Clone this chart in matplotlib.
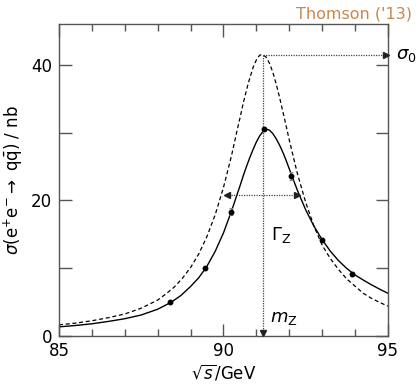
import matplotlib
matplotlib.use("Agg")
import matplotlib.pyplot as plt
from matplotlib.ticker import MultipleLocator

# ---- data ----
born_energy = [85.0, 85.5, 86.0, 86.5, 87.0, 87.5, 88.0, 88.25, 88.5, 88.75, 89.0, 89.25,
               89.5, 89.75, 90.0, 90.1, 90.25, 90.4, 90.5, 90.6, 90.75, 90.9, 91.0, 91.1,
               91.19, 91.3, 91.4, 91.5, 91.6, 91.7, 91.8, 91.9, 92.0, 92.1, 92.25, 92.5,
               92.75, 93.0, 93.25, 93.5, 93.75, 94.0, 94.25, 94.5, 94.75, 95.0]
born_xsec = [1.65, 1.9, 2.25, 2.7, 3.25, 4.1, 5.3, 6.2, 7.2, 8.5, 10.1, 12.1,
             14.7, 17.9, 21.9, 23.8, 26.7, 30.0, 32.1, 34.3, 37.2, 39.6, 40.7, 41.4,
             41.5, 41.1, 40.2, 38.9, 37.2, 35.3, 33.2, 31.1, 28.9, 26.9, 23.9, 19.7,
             16.2, 13.4, 11.4, 9.8, 8.4, 7.35, 6.3, 5.55, 4.95, 4.4]

isr_energy = [85.0, 85.5, 86.0, 86.5, 87.0, 87.5, 88.0, 88.4, 88.7, 89.0, 89.25, 89.5,
              89.75, 90.0, 90.25, 90.5, 90.6, 90.7, 90.8, 90.9, 91.0, 91.1, 91.2, 91.3,
              91.4, 91.5, 91.6, 91.7, 91.8, 91.9, 92.0, 92.1, 92.25, 92.5, 92.75, 93.0,
              93.25, 93.5, 93.75, 94.0, 94.25, 94.5, 94.75, 95.0]
isr_xsec = [1.35, 1.55, 1.8, 2.15, 2.55, 3.1, 3.95, 4.95, 5.95, 7.3, 8.6, 10.3,
            12.5, 15.2, 18.5, 22.1, 23.6, 25.0, 26.3, 27.5, 28.6, 29.5, 30.15, 30.5,
            30.35, 29.85, 29.1, 28.2, 27.15, 25.95, 24.65, 23.35, 21.45, 18.6, 16.2, 14.2,
            12.5, 11.1, 9.95, 9.0, 8.25, 7.55, 6.9, 6.3]

data_energy = [88.38, 89.45, 90.22, 91.24, 92.05, 93.0, 93.92]
data_xsec = [5.0, 10.0, 18.3, 30.5, 23.6, 14.1, 9.1]
data_err = [0.15, 0.2, 0.5, 0.3, 0.6, 0.25, 0.3]

m_z = 91.19
sigma_0 = 41.5
half_max = 20.75
gamma_lo, gamma_hi = 90.07, 92.3

x_ticks = [85, 90, 95]
y_ticks = [0, 20, 40]

# ---- figure ----
fig = plt.figure(figsize=(4.18, 3.86), dpi=100)
ax = fig.add_axes([0.1411, 0.1295, 0.787, 0.8083])

ax.plot(born_energy, born_xsec, color="black", lw=0.9, linestyle=(0, (3.2, 2.2)))
ax.plot(isr_energy, isr_xsec, color="black", lw=1.0)
ax.errorbar(data_energy, data_xsec, yerr=data_err, fmt="o", color="black",
            ms=3.2, ecolor="#888888", elinewidth=1.0, capsize=1.5, capthick=0.8, zorder=5)

dot_kw = dict(color="#444444", lw=0.9, linestyle=(0, (1, 1)))
head_kw = dict(color="#222222", ms=4, clip_on=False, zorder=6, linestyle="none")
# sigma_0 arrow
ax.plot([m_z, 95.0], [sigma_0, sigma_0], clip_on=False, **dot_kw)
ax.plot([94.93], [sigma_0], marker=">", **head_kw)
# m_Z arrow
ax.plot([m_z, m_z], [sigma_0, 0.0], **dot_kw)
ax.plot([m_z], [0.45], marker="v", **head_kw)
# Gamma arrow
ax.plot([gamma_lo, gamma_hi], [half_max, half_max], **dot_kw)
ax.plot([gamma_lo + 0.05], [half_max], marker="<", **head_kw)
ax.plot([gamma_hi - 0.05], [half_max], marker=">", **head_kw)

ax.text(95.25, sigma_0, r"$\sigma_0$", fontsize=13, va="center", ha="left")
ax.text(91.45, 14.9, r"$\Gamma_\mathrm{Z}$", fontsize=13, va="center", ha="left")
ax.text(91.4, 2.7, r"$m_\mathrm{Z}$", fontsize=13, va="center", ha="left")

ax.set_xlim(85, 95)
ax.set_ylim(0, 46)
ax.set_xticks(x_ticks)
ax.set_yticks(y_ticks)
ax.xaxis.set_minor_locator(MultipleLocator(1))
ax.yaxis.set_minor_locator(MultipleLocator(10))
ax.tick_params(which="both", direction="in", top=True, right=True, labelsize=12,
               color="#555555", width=1.0)
ax.tick_params(which="major", length=9)
ax.tick_params(axis="x", which="minor", length=5)
ax.tick_params(axis="y", which="minor", length=9)
ax.tick_params(axis="x", which="major", pad=4)
ax.tick_params(axis="y", which="major", pad=5)
for sp in ax.spines.values():
    sp.set_color("#555555")
    sp.set_linewidth(1.0)

ax.set_xlabel(r"$\sqrt{s}$/GeV", fontsize=12, labelpad=2)
ax.set_ylabel(r"$\sigma$(e$^{+}$e$^{-}\rightarrow$ q$\bar{\mathrm{q}}$) / nb", fontsize=12, labelpad=4)

fig.text(0.985, 0.965, "Thomson ('13)", color="#C8884A", fontsize=11.5, ha="right", va="center")

fig.savefig("out.png", dpi=100)
